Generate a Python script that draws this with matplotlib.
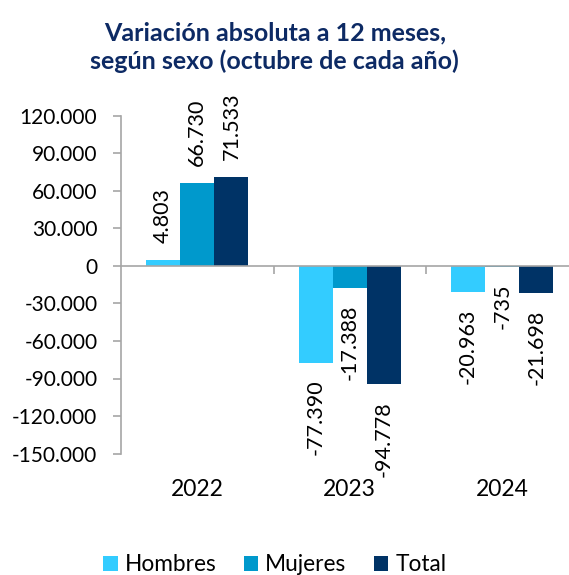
import matplotlib
matplotlib.use("Agg")
import matplotlib.pyplot as plt
import numpy as np
from matplotlib.transforms import blended_transform_factory

years = ["2022", "2023", "2024"]
series_names = ["Hombres", "Mujeres", "Total"]
hombres = [4803, -77390, -20963]
mujeres = [66730, -17388, -735]
total = [71533, -94778, -21698]
yticks = [120000, 90000, 60000, 30000, 0, -30000, -60000, -90000, -120000, -150000]
colors = ["#33CCFF", "#0099CC", "#003366"]

plt.rcParams['font.family'] = ['Lato', 'DejaVu Sans']

fig = plt.figure(figsize=(5.69, 5.75), dpi=100)
ax = fig.add_axes([121/569, 1-453.5/575, 448/569, (453.5-116)/575])

def fmt(v):
    s = f"{abs(v):,}".replace(",", ".")
    return ("-" if v < 0 else "") + s

x = np.arange(len(years))
w = 0.224
for i, (vals, c, name) in enumerate(zip([hombres, mujeres, total], colors, series_names)):
    xs = x + (i - 1) * w
    ax.bar(xs, vals, width=w, color=c, label=name, edgecolor='none')
    for xi, v in zip(xs, vals):
        ax.annotate(fmt(v), (xi, v), xytext=(0, 12 if v >= 0 else -12), textcoords='offset points',
                    rotation=90, ha='center', va='bottom' if v >= 0 else 'top', fontsize=15.5, color='black')

ax.set_xlim(-0.5, -0.5 + 448/152.5)
ax.set_ylim(-150000, 120000)
ax.set_yticks(yticks)
ax.set_yticklabels([fmt(v) for v in yticks], fontsize=15)
ax.tick_params(axis='y', length=6, color='#a6a6a6', width=1.2, pad=11)

for s in ['top', 'right']:
    ax.spines[s].set_visible(False)
ax.spines['left'].set_color('#a6a6a6')
ax.spines['left'].set_linewidth(1.2)
ax.spines['bottom'].set_position(('data', 0))
ax.spines['bottom'].set_color('#a6a6a6')
ax.spines['bottom'].set_linewidth(1.2)
ax.set_xticks([0.5, 1.5])
ax.set_xticklabels([])
ax.tick_params(axis='x', length=6, color='#a6a6a6', width=1.2, direction='out')

trans = blended_transform_factory(ax.transData, ax.transAxes)
for xi, yr in zip(x, years):
    ax.text(xi, -0.107, yr, transform=trans, ha='center', va='center', fontsize=16.5)

fig.text(0.483, 0.918, "Variación absoluta a 12 meses,\nsegún sexo (octubre de cada año)",
         ha='center', va='center', fontsize=18, fontweight='bold', color='#0D2A64', linespacing=1.25)

fig.legend(loc='center', bbox_to_anchor=(0.483, 0.018), ncol=3, frameon=False, fontsize=16.3,
           handlelength=0.65, handleheight=0.65, handletextpad=0.3, columnspacing=1.2)

fig.savefig("out.png", dpi=100)
